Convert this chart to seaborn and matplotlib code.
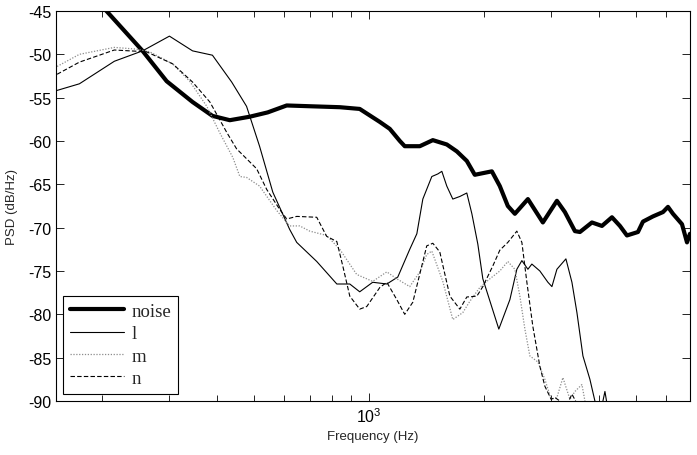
import matplotlib
matplotlib.use("Agg")
import matplotlib.pyplot as plt
from matplotlib.ticker import LogLocator, NullFormatter, FixedLocator
import seaborn as sns

# values (frequency in Hz, PSD in dB/Hz)
noise_f = [192, 206, 256, 296, 346, 390, 433, 488, 544, 610, 713, 840, 947, 1069, 1135,
           1206, 1242, 1360, 1471, 1600, 1700, 1805, 1894, 2099, 2202, 2311, 2411, 2608,
           2854, 3106, 3259, 3462, 3568, 3835, 4074, 4327, 4540, 4736, 5061, 5216, 5540,
           5884, 6064, 6249, 6598, 6800, 6924]
noise_db = [-43.2, -45.0, -49.6, -53.1, -55.5, -57.1, -57.6, -57.2, -56.7, -55.9, -56.0,
            -56.1, -56.3, -57.8, -58.6, -60.0, -60.6, -60.6, -59.9, -60.4, -61.2, -62.3,
            -63.9, -63.5, -65.2, -67.5, -68.4, -66.7, -69.4, -66.9, -68.2, -70.4, -70.5,
            -69.4, -69.8, -68.8, -69.8, -70.9, -70.5, -69.3, -68.7, -68.2, -67.6, -68.4,
            -69.6, -71.7, -70.7]

l_f = [152, 175, 216, 256, 301, 346, 390, 438, 479, 518, 561, 621, 648, 731, 825, 892,
       947, 1024, 1115, 1191, 1280, 1336, 1385, 1462, 1516, 1553, 1600, 1659, 1731, 1805,
       1861, 1929, 1988, 2189, 2340, 2440, 2515, 2608, 2671, 2803, 2942, 3014, 3106, 3279,
       3400, 3504, 3633, 3789, 3905, 4025, 4098, 4148, 4224, 4540]
l_db = [-54.2, -53.4, -50.8, -49.6, -47.9, -49.6, -50.1, -53.2, -56.0, -60.6, -65.9,
        -70.2, -71.7, -73.9, -76.5, -76.5, -77.4, -76.3, -76.5, -75.7, -72.5, -70.7,
        -66.7, -64.1, -63.8, -63.5, -65.2, -66.7, -66.4, -66.0, -68.4, -71.9, -75.9,
        -81.7, -78.3, -74.8, -73.8, -74.8, -74.2, -75.0, -76.3, -76.8, -74.8, -73.6,
        -76.3, -79.8, -84.8, -87.5, -90.0, -91.0, -90.0, -88.9, -91.0, -95.0]

m_f = [153, 175, 216, 247, 267, 307, 340, 377, 407, 441, 460, 479, 518, 574, 621, 660,
       701, 776, 840, 930, 1024, 1115, 1184, 1280, 1360, 1418, 1462, 1562, 1659, 1762,
       1838, 1952, 2074, 2202, 2311, 2411, 2485, 2561, 2639, 2770, 2889, 3000, 3106, 3220,
       3359, 3462, 3611, 3677, 3789]
m_db = [-51.4, -50.0, -49.2, -49.4, -49.7, -51.1, -53.1, -56.0, -59.0, -61.9, -64.1,
        -64.2, -65.2, -68.0, -69.8, -69.8, -70.4, -70.9, -72.5, -75.4, -76.2, -75.1,
        -75.9, -76.8, -75.1, -73.1, -72.7, -76.2, -80.6, -79.8, -78.5, -76.9, -75.9,
        -75.0, -73.9, -74.8, -77.9, -81.7, -84.8, -85.5, -87.5, -89.8, -89.6, -87.3,
        -89.8, -88.9, -88.1, -90.0, -91.5]

n_f = [153, 175, 216, 237, 262, 307, 346, 384, 407, 425, 451, 509, 541, 585, 610, 648,
       731, 776, 825, 855, 892, 947, 988, 1069, 1115, 1184, 1242, 1304, 1418, 1471, 1534,
       1630, 1731, 1805, 1918, 1988, 2112, 2202, 2311, 2440, 2515, 2592, 2687, 2803, 2889,
       3000, 3069, 3162, 3259, 3400, 3504, 3611]
n_db = [-52.3, -50.9, -49.5, -49.6, -49.7, -51.1, -53.2, -55.5, -57.5, -59.0, -60.9,
        -63.2, -65.6, -67.9, -69.0, -68.7, -68.8, -71.0, -71.6, -74.4, -77.9, -79.4,
        -79.1, -76.9, -76.3, -78.3, -80.0, -78.6, -72.1, -71.8, -72.8, -77.9, -79.4,
        -78.0, -77.9, -76.8, -74.4, -72.6, -71.7, -70.4, -71.7, -76.3, -81.4, -86.0,
        -88.3, -89.8, -89.6, -90.0, -91.0, -89.2, -90.3, -92.0]

yticks = [-90, -85, -80, -75, -70, -65, -60, -55, -50, -45]

sns.set_style("ticks")
plt.rcParams["font.family"] = ["Liberation Sans", "DejaVu Sans"]
plt.rcParams["axes.unicode_minus"] = False
plt.rcParams["mathtext.fontset"] = "custom"
plt.rcParams["mathtext.rm"] = "Liberation Sans"

fig = plt.figure(figsize=(6.97, 4.56), dpi=100)
ax = fig.add_axes([56 / 697, 1 - 402 / 456, 634 / 697, 390 / 456])

sns.lineplot(x=noise_f, y=noise_db, ax=ax, color="black", lw=3.0,
             label="noise", estimator=None, sort=False)
sns.lineplot(x=l_f, y=l_db, ax=ax, color="black", lw=0.8,
             label="l", estimator=None, sort=False)
sns.lineplot(x=m_f, y=m_db, ax=ax, color="#8c8c8c", lw=0.9, ls=(0, (1, 1.3)),
             label="m", estimator=None, sort=False)
sns.lineplot(x=n_f, y=n_db, ax=ax, color="black", lw=0.8, ls=(0, (4, 2)),
             label="n", estimator=None, sort=False)

ax.set_xscale("log")
ax.set_xlim(152, 6924)
ax.set_ylim(-90, -45)
ax.xaxis.set_major_locator(FixedLocator([1000]))
ax.xaxis.set_minor_locator(LogLocator(base=10, subs=range(2, 10), numticks=20))
ax.xaxis.set_minor_formatter(NullFormatter())
ax.set_yticks(yticks)
ax.set_yticklabels([str(v) for v in yticks])

ax.tick_params(which="both", direction="in", top=True, right=True, colors="black",
               labelsize=11.5, width=0.6)
ax.tick_params(which="major", length=6)
ax.tick_params(which="minor", length=4)
for s in ax.spines.values():
    s.set_color("black")
    s.set_linewidth(0.8)

ax.set_xlabel("Frequency (Hz)", fontsize=9.5, labelpad=4)
ax.set_ylabel("PSD (dB/Hz)", fontsize=9.5, labelpad=7)

leg = ax.legend(loc="lower left", prop={"family": "Liberation Serif", "size": 13.5},
                frameon=True, fancybox=False, edgecolor="black", framealpha=1,
                handlelength=2.9, labelspacing=0.28, handletextpad=0.4,
                borderpad=0.35, borderaxespad=0.4)
leg.get_frame().set_linewidth(0.8)

fig.savefig("out.png", dpi=100)
